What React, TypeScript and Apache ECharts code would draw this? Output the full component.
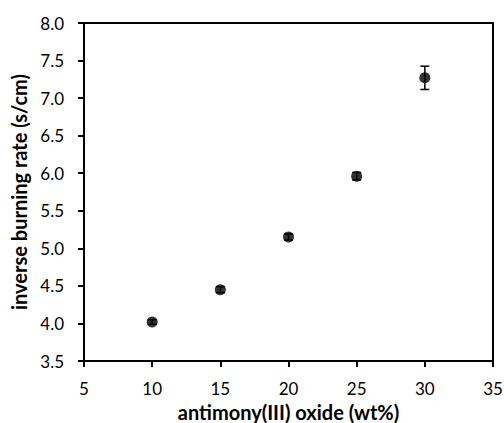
import React, { useEffect, useRef } from "react";
import * as echarts from "echarts";

const xValues = [10, 15, 20, 25, 30];
const yValues = [4.02, 4.45, 5.15, 5.96, 7.27];
const yErrors = [0.03, 0.04, 0.04, 0.05, 0.155];

const xTitle = "antimony(III) oxide (wt%)";
const yTitle = "inverse burning rate (s/cm)";

export default function App() {
  const ref = useRef<HTMLDivElement>(null);
  useEffect(() => {
    if (!ref.current) return;
    const chart = echarts.init(ref.current, undefined, { renderer: "svg" });
    const font = "Lato, 'Open Sans', sans-serif";
    const points = xValues.map((x, i) => [x, yValues[i]]);
    const errData = xValues.map((x, i) => [x, yValues[i] - yErrors[i], yValues[i] + yErrors[i]]);
    chart.setOption({
      animation: false,
      backgroundColor: "#ffffff",
      grid: {
        left: 84,
        top: 23,
        right: 11,
        bottom: 62,
        show: true,
        borderColor: "#000",
        borderWidth: 2,
        containLabel: false,
        outerBoundsMode: "none",
      },
      xAxis: {
        type: "value",
        min: 5,
        max: 35,
        interval: 5,
        name: xTitle,
        nameLocation: "middle",
        nameGap: 41,
        nameTextStyle: { fontFamily: font, fontSize: 20, fontWeight: "bold", color: "#000" },
        axisLine: { show: true, lineStyle: { color: "#000", width: 2 } },
        axisTick: { show: true, length: 6, lineStyle: { color: "#000", width: 2 } },
        axisLabel: { fontFamily: font, fontSize: 17, color: "#000", margin: 19 },
        splitLine: { show: false },
      },
      yAxis: {
        type: "value",
        min: 3.5,
        max: 8,
        interval: 0.5,
        name: yTitle,
        nameLocation: "middle",
        nameGap: 51,
        nameTextStyle: { fontFamily: font, fontSize: 20, fontWeight: "bold", color: "#000" },
        axisLine: { show: true, lineStyle: { color: "#000", width: 2 } },
        axisTick: { show: true, length: 6, lineStyle: { color: "#000", width: 2 } },
        axisLabel: {
          fontFamily: font,
          fontSize: 17,
          color: "#000",
          margin: 20,
          formatter: (v: number) => v.toFixed(1),
        },
        splitLine: { show: false },
      },
      series: [
        {
          type: "custom",
          data: errData,
          renderItem: (params: any, api: any) => {
            const x = api.value(0);
            const lo = api.coord([x, api.value(1)]);
            const hi = api.coord([x, api.value(2)]);
            const hw = 4.5;
            const style = { stroke: "#000", lineWidth: 1.5 };
            return {
              type: "group",
              children: [
                { type: "line", shape: { x1: lo[0], y1: lo[1], x2: hi[0], y2: hi[1] }, style },
                { type: "line", shape: { x1: lo[0] - hw, y1: lo[1], x2: lo[0] + hw, y2: lo[1] }, style },
                { type: "line", shape: { x1: hi[0] - hw, y1: hi[1], x2: hi[0] + hw, y2: hi[1] }, style },
              ],
            };
          },
          z: 2,
        },
        {
          type: "scatter",
          data: points,
          symbol: "circle",
          symbolSize: 11,
          itemStyle: { color: "#000" },
          z: 3,
        },
      ],
    });
    return () => chart.dispose();
  }, []);
  return (
    <div
      ref={ref}
      style={{ position: "absolute", left: 0, top: 0, width: 504, height: 423 }}
    />
  );
}
